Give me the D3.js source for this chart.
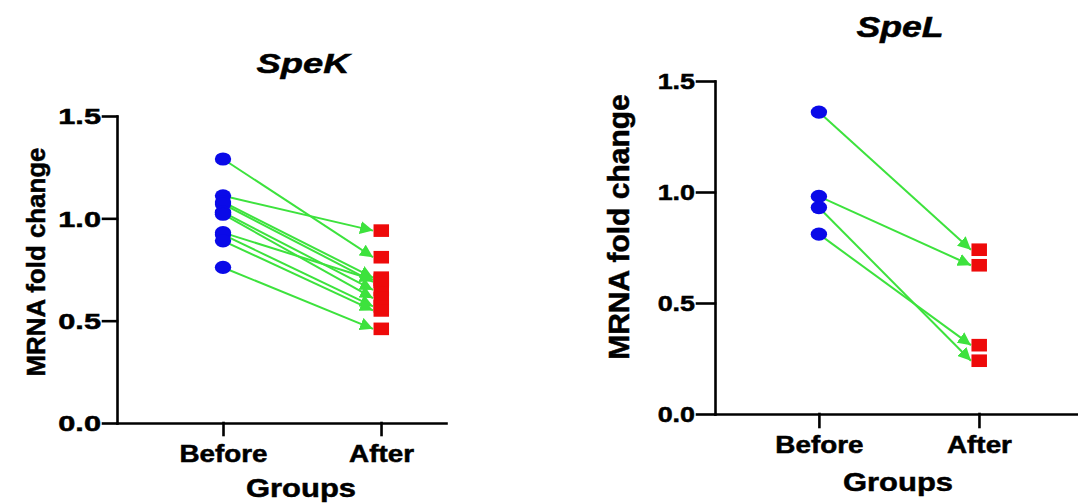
<!DOCTYPE html>
<html><head><meta charset="utf-8">
<script src="https://cdn.jsdelivr.net/npm/d3@7"></script>
<style>body{margin:0;background:#fff}svg{display:block}</style>
</head><body><svg id="c" width="1078" height="504"></svg>
<script>
// ---------- data ----------
const groups = ["Before", "After"];
const yTickValues = [0, 0.5, 1.0, 1.5];
const speKBefore = [1.29, 1.11, 1.08, 1.07, 1.03, 1.02, 0.93, 0.92, 0.89, 0.76];
const speKAfter  = [0.81, 0.94, 0.71, 0.69, 0.65, 0.61, 0.70, 0.57, 0.55, 0.46];
const speLBefore = [1.36, 0.98, 0.93, 0.81];
const speLAfter  = [0.74, 0.67, 0.24, 0.31];
const panelTitles = ["SpeK", "SpeL"];
const yAxisTitle = "MRNA fold change";
const xAxisTitle = "Groups";

// ---------- layout / style ----------
const FONT = "'Liberation Sans', Arial, Helvetica, sans-serif";
const BLUE = "#0a0ae8", RED = "#ee0a0a", GREEN = "#3de23d";
const TEXT_STROKE = 0.5;
const panels = [
  {title: panelTitles[0], before: speKBefore, after: speKAfter,
   x0: 117, x1: 446, yB: 423, yT: 116, pad: 0.541, align: 0.62,
   titleX: 303, titleY: 73, titleSize: 28, titleSx: 1.3,
   yTitleX: 45, yTitleY: 262, yTitleSize: 25, yTitleSx: 1.035,
   yTickLen: 14, yTickSize: 21.5, yTickSx: 1.43,
   xTickLen: 12, xLabY: 461.5, xLabSize: 23, xLabSx: 1.21,
   gX: 301, gY: 497, gSize: 26, gSx: 1.19},
  {title: panelTitles[1], before: speLBefore, after: speLAfter,
   x0: 715, x1: 1078, yB: 414, yT: 81, pad: 0.634, align: 0.512,
   titleX: 900, titleY: 36.5, titleSize: 29, titleSx: 1.23,
   yTitleX: 629, yTitleY: 227, yTitleSize: 29, yTitleSx: 1.035,
   yTickLen: 18, yTickSize: 21.5, yTickSx: 1.25,
   xTickLen: 13, xLabY: 453.3, xLabSize: 23, xLabSx: 1.21,
   gX: 898, gY: 491, gSize: 26, gSx: 1.19}
];

const svg = d3.select("#c");
const defs = svg.append("defs");
defs.append("marker").attr("id", "arr")
  .attr("markerUnits", "userSpaceOnUse")
  .attr("viewBox", "0 0 12 12").attr("refX", 12).attr("refY", 6)
  .attr("markerWidth", 13).attr("markerHeight", 13)
  .attr("orient", "auto")
  .append("path").attr("d", "M0,0 L12,6 L0,12 Z").attr("fill", GREEN);

function styleText(sel, size) {
  return sel.attr("font-family", FONT).attr("font-weight", "bold")
    .attr("font-size", size).attr("fill", "#000")
    .attr("stroke", "#000").attr("stroke-width", TEXT_STROKE);
}
function stretchedText(g, txt, x, y, size, sx, opts = {}) {
  const t = g.append("text")
    .attr("transform", `translate(${x},${y}) scale(${sx},1)`)
    .attr("text-anchor", opts.anchor || "middle")
    .attr("font-style", opts.italic ? "italic" : "normal")
    .text(txt);
  return styleText(t, size);
}

panels.forEach(p => {
  const g = svg.append("g");
  const x = d3.scalePoint().domain(groups).range([p.x0, p.x1]).padding(p.pad).align(p.align);
  const y = d3.scaleLinear().domain([0, 1.5]).range([p.yB, p.yT]);
  const xb = x("Before"), xa = x("After");

  // axes
  const ya = g.append("g").attr("transform", `translate(${p.x0},0)`)
    .call(d3.axisLeft(y).tickValues(yTickValues).tickFormat(d3.format(".1f"))
      .tickSize(p.yTickLen).tickSizeOuter(0).tickPadding(2));
  styleText(ya.selectAll("text")
    .attr("x", null).attr("dy", "0.36em")
    .attr("transform", `translate(${-(p.yTickLen + 2)},0) scale(${p.yTickSx},1)`), p.yTickSize);

  const xaG = g.append("g").attr("transform", `translate(0,${p.yB})`)
    .call(d3.axisBottom(x).tickSize(p.xTickLen).tickSizeOuter(0));
  styleText(xaG.selectAll("text")
    .attr("y", null).attr("dy", null)
    .attr("transform", `translate(0,${p.xLabY - p.yB}) scale(${p.xLabSx},1)`), p.xLabSize);

  g.selectAll(".domain, .tick line").attr("stroke", "#000").attr("stroke-width", 2.6)
    .attr("stroke-linecap", "square");

  // titles
  stretchedText(g, p.title, p.titleX, p.titleY, p.titleSize, p.titleSx, {italic: true});
  stretchedText(g, xAxisTitle, p.gX, p.gY, p.gSize, p.gSx);
  styleText(g.append("text")
    .attr("transform", `translate(${p.yTitleX},${p.yTitleY}) rotate(-90) scale(${p.yTitleSx},1)`)
    .attr("text-anchor", "middle").text(yAxisTitle), p.yTitleSize);

  // paired lines with arrows
  const pairs = p.before.map((b, i) => ({b, a: p.after[i]}));
  g.append("g").selectAll("line").data(pairs).join("line")
    .attr("x1", xb).attr("y1", d => y(d.b))
    .attr("x2", xa - 8).attr("y2", d => y(d.a))
    .attr("stroke", GREEN).attr("stroke-width", 2)
    .attr("marker-end", "url(#arr)");

  // before points
  g.append("g").selectAll("ellipse").data(p.before).join("ellipse")
    .attr("cx", xb).attr("cy", d => y(d)).attr("rx", 8.2).attr("ry", 6.6)
    .attr("fill", BLUE);
  // after points
  g.append("g").selectAll("rect").data(p.after).join("rect")
    .attr("x", xa - 7.5).attr("y", d => y(d) - 6.3).attr("width", 15.5).attr("height", 12.6)
    .attr("fill", RED);
});
</script>
</body></html>
